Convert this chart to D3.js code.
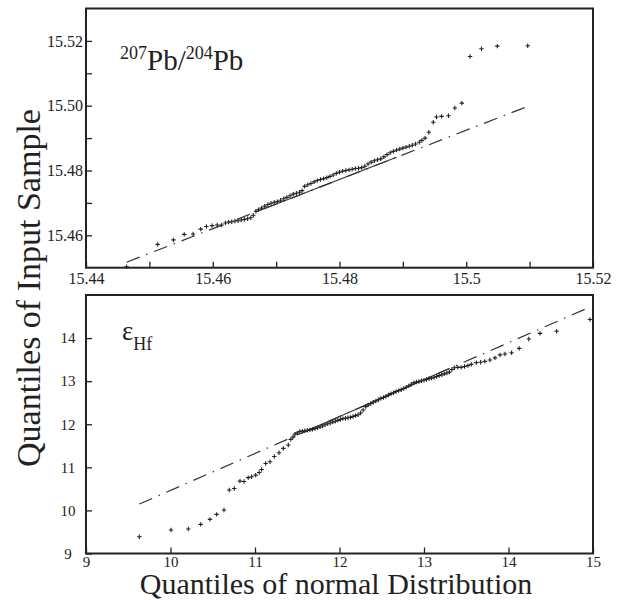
<!DOCTYPE html>
<html>
<head>
<meta charset="utf-8">
<script src="https://cdn.jsdelivr.net/npm/d3@7"></script>
<style>
  body { margin: 0; background: #fff; }
  svg, text { font-family: "Liberation Serif", "Times New Roman", serif; fill: #222; }
</style>
</head>
<body>
<div id="chart"></div>
<script type="text/javascript">

      // 207Pb/204Pb : [normal quantile, sample quantile]
      var pbPoints = [
        [15.4464,15.4503],[15.4513,15.4572],[15.4538,15.4586],[15.4555,15.4603],[15.4569,15.4604],
        [15.4581,15.4619],[15.4590,15.4627],[15.4599,15.4630],[15.4607,15.4632],[15.4614,15.4632],
        [15.4620,15.4638],[15.4625,15.4641],[15.4630,15.4642],[15.4635,15.4644],[15.4640,15.4645],
        [15.4645,15.4647],[15.4650,15.4649],[15.4655,15.4651],[15.4660,15.4654],[15.4664,15.4662],
        [15.4668,15.4674],[15.4672,15.4679],[15.4677,15.4684],[15.4682,15.4690],[15.4687,15.4695],
        [15.4692,15.4699],[15.4697,15.4702],[15.4702,15.4704],[15.4707,15.4708],[15.4712,15.4713],
        [15.4717,15.4717],[15.4722,15.4722],[15.4727,15.4727],[15.4732,15.4730],[15.4737,15.4733],
        [15.4741,15.4738],[15.4745,15.4751],[15.4750,15.4756],[15.4755,15.4760],[15.4760,15.4765],
        [15.4765,15.4769],[15.4770,15.4772],[15.4775,15.4775],[15.4780,15.4778],[15.4785,15.4782],
        [15.4790,15.4786],[15.4795,15.4791],[15.4800,15.4795],[15.4805,15.4798],[15.4810,15.4800],
        [15.4815,15.4802],[15.4820,15.4804],[15.4825,15.4806],[15.4830,15.4807],[15.4835,15.4809],
        [15.4840,15.4813],[15.4845,15.4820],[15.4850,15.4826],[15.4855,15.4830],[15.4860,15.4833],
        [15.4865,15.4836],[15.4870,15.4842],[15.4875,15.4849],[15.4880,15.4855],[15.4885,15.4859],
        [15.4890,15.4863],[15.4895,15.4866],[15.4900,15.4869],[15.4905,15.4872],[15.4910,15.4875],
        [15.4915,15.4878],[15.4920,15.4882],[15.4926,15.4887],[15.4930,15.4893],[15.4935,15.4900],
        [15.4941,15.4918],[15.4948,15.4949],[15.4953,15.4965],[15.4961,15.4967],[15.4972,15.4969],
        [15.4982,15.4993],[15.4993,15.5008],[15.5006,15.5152],[15.5024,15.5176],[15.5049,15.5184],
        [15.5097,15.5185]
      ];
      var pbLineX = [15.4464, 15.5097];   // reference line ends
      var pbLineY = [15.4517, 15.4998];
      var pbSolidX = [15.467, 15.489];    // solid part (quartiles)

      // eHf
      var hfPoints = [
        [9.631,9.39],[10.006,9.545],[10.211,9.568],[10.357,9.677],[10.467,9.793],[10.546,9.909],
        [10.633,10.009],[10.696,10.473],[10.755,10.51],[10.822,10.68],[10.87,10.67],[10.92,10.76],
        [10.96,10.78],[11.008,10.82],[11.05,10.88],[11.079,10.95],[11.126,11.09],[11.178,11.13],
        [11.228,11.25],[11.284,11.34],[11.335,11.44],[11.394,11.52],[11.423,11.65],[11.45,11.70],
        [11.473,11.77],[11.50,11.80],[11.53,11.83],[11.56,11.84],[11.59,11.85],[11.62,11.86],
        [11.65,11.87],[11.68,11.88],[11.71,11.90],[11.74,11.92],[11.77,11.94],[11.80,11.96],
        [11.83,11.99],[11.86,12.01],[11.89,12.03],[11.92,12.05],[11.95,12.07],[11.98,12.09],
        [12.01,12.11],[12.04,12.13],[12.07,12.14],[12.10,12.15],[12.13,12.16],[12.16,12.18],
        [12.19,12.20],[12.22,12.22],[12.25,12.26],[12.28,12.33],[12.31,12.41],[12.34,12.45],
        [12.37,12.48],[12.40,12.51],[12.43,12.54],[12.46,12.57],[12.49,12.60],[12.52,12.62],
        [12.55,12.65],[12.58,12.68],[12.61,12.71],[12.64,12.73],[12.67,12.76],[12.70,12.78],
        [12.73,12.80],[12.76,12.83],[12.79,12.86],[12.82,12.89],[12.85,12.93],[12.88,12.96],
        [12.91,12.98],[12.94,12.99],[12.97,13.01],[13.00,13.02],[13.03,13.04],[13.06,13.06],
        [13.09,13.07],[13.12,13.09],[13.15,13.11],[13.18,13.13],[13.21,13.15],[13.24,13.17],
        [13.27,13.19],[13.30,13.21],[13.33,13.27],[13.36,13.31],[13.40,13.32],[13.44,13.32],
        [13.48,13.34],[13.52,13.36],[13.56,13.39],[13.62,13.43],[13.67,13.44],[13.72,13.46],
        [13.78,13.49],[13.84,13.54],[13.90,13.61],[13.958,13.63],[14.037,13.66],[14.127,13.76],
        [14.24,13.98],[14.373,14.11],[14.57,14.16],[14.964,14.43]
      ];
      var hfLineX = [9.631, 14.964];
      var hfLineY = [10.148, 14.72];
      var hfSolidX = [11.5, 13.3];

      // ticks
      var pbXTicks = [15.44, 15.45, 15.46, 15.47, 15.48, 15.49, 15.50, 15.51, 15.52];
      var pbXLabels = ["15.44", "", "15.46", "", "15.48", "", "15.5", "", "15.52"];
      var pbYTicks = [15.46, 15.47, 15.48, 15.49, 15.50, 15.51, 15.52];
      var pbYLabels = ["15.46", "", "15.48", "", "15.50", "", "15.52"];
      var hfXTicks = [9, 10, 11, 12, 13, 14, 15];
      var hfXLabels = ["9", "10", "11", "12", "13", "14", "15"];
      var hfYTicks = [9, 10, 11, 12, 13, 14];
      var hfYLabels = ["9", "10", "11", "12", "13", "14"];

      var serif = "'Liberation Serif', 'Times New Roman', serif";
      var w = 621, h = 600;
      var left = 86, pw = 507;

      var svg = d3.select("#chart")
                  .append("svg")
                  .attr("width", w)
                  .attr("height", h)
                  .attr("font-family", serif);

      function panel(o) {
        var g = svg.append("g").attr("transform", "translate(" + left + "," + o.top + ")");
        var x = d3.scaleLinear().domain(o.xDomain).range([0, pw]);
        var y = d3.scaleLinear().domain(o.yDomain).range([o.height, 0]);

        // reference line: dash-dot over the full range, solid between quartiles
        var ly = d3.scaleLinear().domain(o.lineX).range(o.lineY);
        g.append("line")
         .attr("x1", x(o.lineX[0])).attr("y1", y(o.lineY[0]))
         .attr("x2", x(o.lineX[1])).attr("y2", y(o.lineY[1]))
         .attr("stroke", "#333").attr("stroke-width", 1.2)
         .attr("stroke-dasharray", "14,7,1.5,7");
        g.append("line")
         .attr("x1", x(o.solidX[0])).attr("y1", y(ly(o.solidX[0])))
         .attr("x2", x(o.solidX[1])).attr("y2", y(ly(o.solidX[1])))
         .attr("stroke", "#333").attr("stroke-width", 1.1);

        g.selectAll("path.pt")
         .data(o.points)
         .enter()
         .append("path")
         .attr("class", "pt")
         .attr("d", "M-2.2,0H2.2M0,-2.2V2.2")
         .attr("transform", function(d) { return "translate(" + x(d[0]) + "," + y(d[1]) + ")"; })
         .attr("stroke", "#222")
         .attr("stroke-width", 1.1)
         .attr("fill", "none");

        var xAxis = d3.axisBottom(x).tickValues(o.xTicks).tickSizeInner(-6).tickSizeOuter(0)
                      .tickPadding(o.xPad).tickFormat(function(d, i) { return o.xLabels[i]; });
        var yAxis = d3.axisLeft(y).tickValues(o.yTicks).tickSizeInner(-6).tickSizeOuter(0)
                      .tickPadding(o.yPad).tickFormat(function(d, i) { return o.yLabels[i]; });

        var gx = g.append("g").attr("transform", "translate(0," + o.height + ")").call(xAxis);
        var gy = g.append("g").call(yAxis);
        [gx, gy].forEach(function(a) {
          a.attr("font-family", serif).attr("font-size", o.fs);
          a.select(".domain").remove();
          a.selectAll("line").attr("stroke", "#222").attr("stroke-width", 1.3);
          a.selectAll("text").attr("fill", "#222").attr("font-family", serif);
        });
        if (o.yCenter) gy.selectAll("text").attr("text-anchor", "middle").attr("x", o.yCenter);

        g.append("rect")
         .attr("width", pw).attr("height", o.height)
         .attr("fill", "none").attr("stroke", "#222").attr("stroke-width", 2);
        return g;
      }

      panel({top: 8.5, height: 259.2, xDomain: [15.44, 15.52], yDomain: [15.45, 15.53],
             points: pbPoints, lineX: pbLineX, lineY: pbLineY, solidX: pbSolidX,
             xTicks: pbXTicks, xLabels: pbXLabels, yTicks: pbYTicks, yLabels: pbYLabels,
             xPad: 5, yPad: 3, fs: 16});
      panel({top: 295, height: 258.5, xDomain: [9, 15], yDomain: [9, 15],
             points: hfPoints, lineX: hfLineX, lineY: hfLineY, solidX: hfSolidX,
             xTicks: hfXTicks, xLabels: hfXLabels, yTicks: hfYTicks, yLabels: hfYLabels,
             xPad: 3, yPad: 10, yCenter: -18, fs: 15});

      // panel labels
      var t1 = svg.append("text").attr("x", 120).attr("y", 70).attr("font-size", 29)
                  .attr("font-family", serif);
      t1.append("tspan").attr("font-size", 18).attr("dy", -11).text("207");
      t1.append("tspan").attr("dy", 11).text("Pb/");
      t1.append("tspan").attr("font-size", 18).attr("dy", -11).text("204");
      t1.append("tspan").attr("dy", 11).text("Pb");

      var t2 = svg.append("text").attr("x", 122).attr("y", 340).attr("font-size", 27)
                  .attr("font-family", serif);
      t2.append("tspan").text("ε");
      t2.append("tspan").attr("font-size", 18).attr("dy", 10).text("Hf");

      // axis titles
      svg.append("text")
         .attr("transform", "translate(40,288) rotate(-90)")
         .attr("text-anchor", "middle")
         .attr("font-size", 34)
         .attr("font-family", serif)
         .text("Quantiles of Input Sample");
      svg.append("text")
         .attr("x", 336).attr("y", 593.5)
         .attr("text-anchor", "middle")
         .attr("font-size", 30)
         .attr("font-family", serif)
         .text("Quantiles of normal Distribution");

</script>
</body>
</html>
